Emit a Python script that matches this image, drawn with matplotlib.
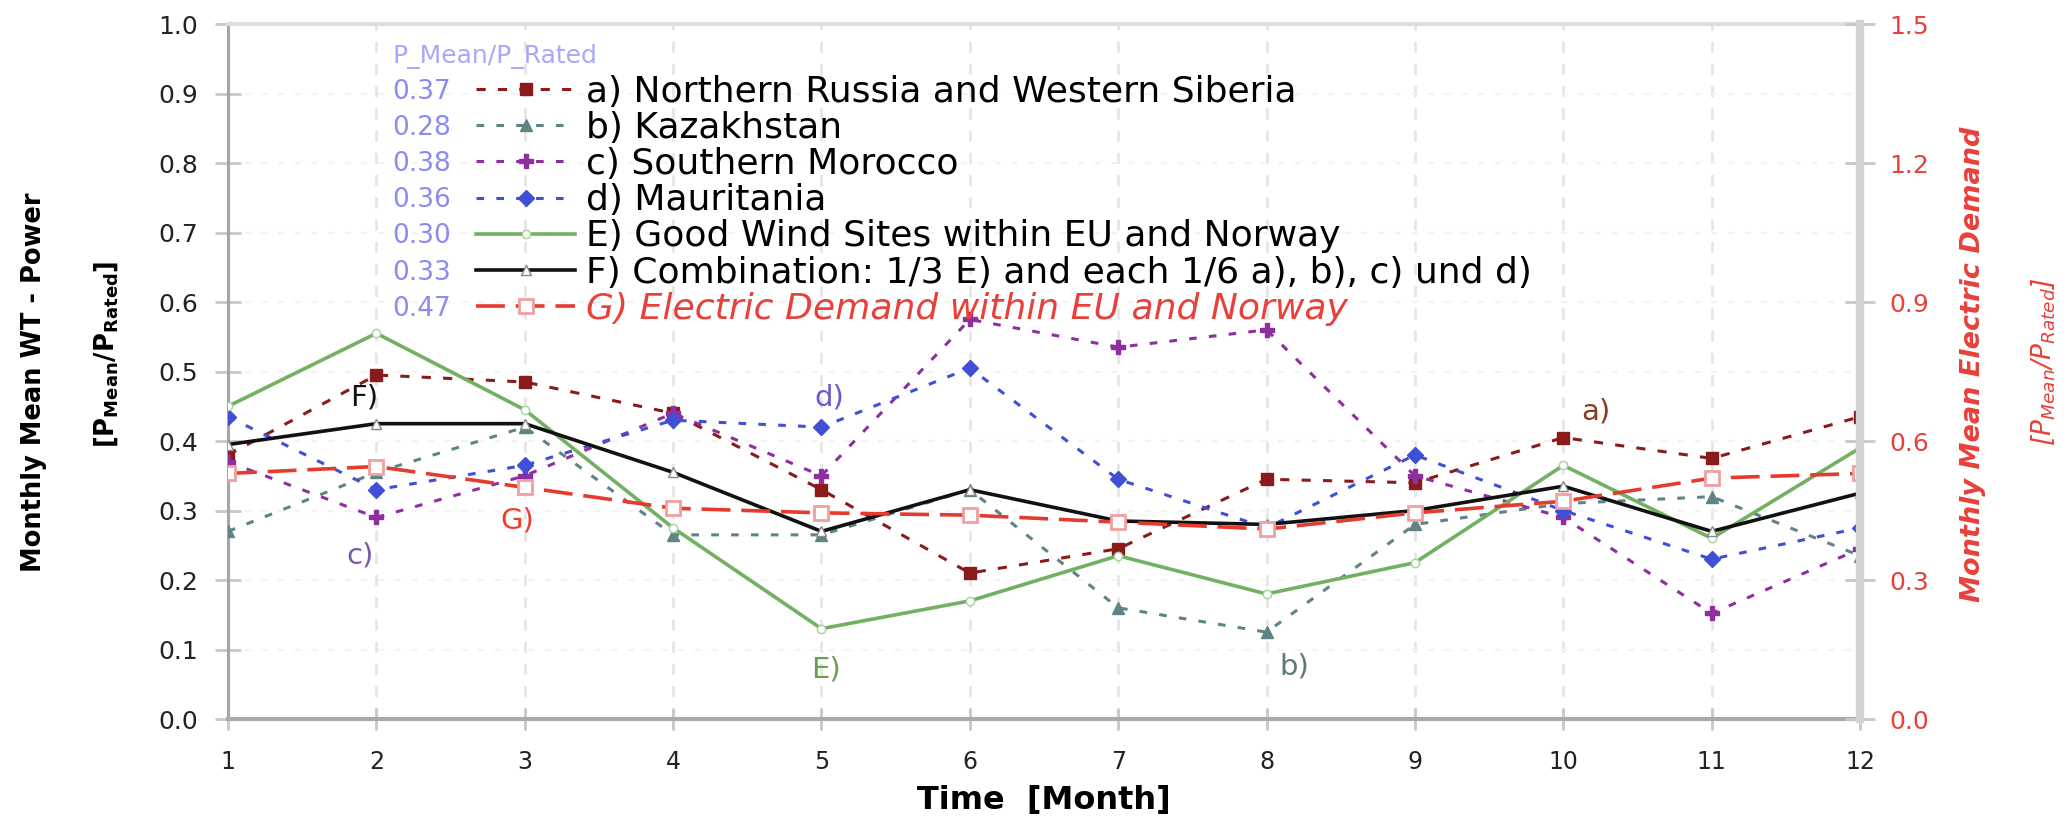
import matplotlib
matplotlib.use('Agg')
import matplotlib.pyplot as plt

# monthly mean WT power, P_Mean/P_Rated
months = list(range(1, 13))
north_russia = [0.38, 0.495, 0.485, 0.44, 0.33, 0.21, 0.245, 0.345, 0.34, 0.405, 0.375, 0.435]
kazakhstan = [0.27, 0.355, 0.42, 0.265, 0.265, 0.33, 0.16, 0.125, 0.28, 0.31, 0.32, 0.235]
morocco = [0.37, 0.29, 0.35, 0.44, 0.35, 0.575, 0.535, 0.56, 0.35, 0.29, 0.152, 0.245]
mauritania = [0.435, 0.33, 0.365, 0.43, 0.42, 0.505, 0.345, 0.275, 0.38, 0.30, 0.23, 0.275]
eu_wind = [0.45, 0.555, 0.445, 0.275, 0.13, 0.17, 0.235, 0.18, 0.225, 0.365, 0.26, 0.39]
combination = [0.395, 0.425, 0.425, 0.355, 0.27, 0.33, 0.285, 0.28, 0.30, 0.335, 0.27, 0.325]
# electric demand, right axis
demand = [0.53, 0.545, 0.50, 0.455, 0.445, 0.44, 0.425, 0.41, 0.445, 0.47, 0.52, 0.53]

series_labels = [
    'a) Northern Russia and Western Siberia',
    'b) Kazakhstan',
    'c) Southern Morocco',
    'd) Mauritania',
    'E) Good Wind Sites within EU and Norway',
    'F) Combination: 1/3 E) and each 1/6 a), b), c) und d)',
    'G) Electric Demand within EU and Norway',
]
legend_means = ['0.37', '0.28', '0.38', '0.36', '0.30', '0.33', '0.47']
left_ticks = [0.0, 0.1, 0.2, 0.3, 0.4, 0.5, 0.6, 0.7, 0.8, 0.9, 1.0]
right_ticks = [0.0, 0.3, 0.6, 0.9, 1.2, 1.5]

plt.rcParams['font.family'] = 'DejaVu Sans'
plt.rcParams['mathtext.default'] = 'regular'

fig = plt.figure(figsize=(20.69, 8.21), dpi=100)
ax = fig.add_axes([0.1102, 0.1242, 0.7888, 0.8465])
ax2 = ax.twinx()

# ----- series on left axis -----
left_series = [
    (north_russia, '#8B1A1A', 's', (0, (3, 4)), 2.2, 9, '#8B1A1A', '#8B1A1A'),
    (kazakhstan, '#5E8484', '^', (0, (2.5, 4)), 2.2, 9, '#5E8484', '#5E8484'),
    (morocco, '#8E2FA0', 'P', (0, (2.5, 4)), 2.2, 10, '#8E2FA0', '#8E2FA0'),
    (mauritania, '#3F4FD6', 'D', (0, (2.5, 4)), 2.2, 8, '#3F4FD6', '#3F4FD6'),
    (eu_wind, '#72B062', 'o', '-', 2.6, 6, 'white', '#A8D09C'),
    (combination, '#111111', '^', '-', 2.6, 7, 'white', '#888888'),
]
handles = []
for vals, color, marker, ls, lw, ms, mfc, mec in left_series:
    h, = ax.plot(months, vals, color=color, linestyle=ls, linewidth=lw,
                 marker=marker, markersize=ms, markerfacecolor=mfc,
                 markeredgecolor=mec, zorder=3)
    handles.append(h)

g, = ax2.plot(months, demand, color='#E53A2E', linestyle=(0, (8, 3)), linewidth=2.6,
              marker='s', markersize=10, markerfacecolor='white',
              markeredgecolor='#F0A0A0', markeredgewidth=2)
handles.append(g)

# ----- axes styling -----
ax.set_xlim(1, 12)
ax.set_ylim(0, 1.0)
ax2.set_ylim(0, 1.5)
ax.set_xticks(months)
ax.set_xticklabels([str(m) for m in months])
ax.set_yticks(left_ticks)
ax.set_yticklabels([f'{t:.1f}' for t in left_ticks])
ax2.set_yticks(right_ticks)
ax2.set_yticklabels([f'{t:.1f}' for t in right_ticks])

ax.tick_params(axis='y', direction='inout', length=19, width=2, color='#C8C8C8',
               labelsize=18, pad=12, labelcolor='#222222')
ax.tick_params(axis='x', direction='inout', length=16, width=2, color='#C8C8C8',
               labelsize=17, pad=14, labelcolor='#222222')
ax2.tick_params(axis='y', direction='inout', length=22, width=2, color='#C8C8C8',
                labelsize=18, pad=10, labelcolor='#E8403A')

ax.grid(axis='x', color='#E6E6E6', linestyle=(0, (4, 4)), linewidth=2)
ax.grid(axis='y', color='#F3F3F3', linestyle=(0, (3, 5)), linewidth=1.5)

for s in ['top', 'right', 'left', 'bottom']:
    ax2.spines[s].set_visible(s == 'right')
ax.spines['right'].set_visible(False)
ax.spines['top'].set_color('#DDDDDD')
ax.spines['top'].set_linewidth(3)
ax.spines['left'].set_color('#A6A6A6')
ax.spines['left'].set_linewidth(2.2)
ax.spines['bottom'].set_color('#AAAAAA')
ax.spines['bottom'].set_linewidth(3)
ax2.spines['right'].set_color('#D2D2D2')
ax2.spines['right'].set_linewidth(6)

# ----- axis labels -----
ax.set_xlabel('Time  [Month]', fontsize=23, fontweight='bold', labelpad=8)
ax.set_ylabel('Monthly Mean WT - Power', fontsize=18.5, fontweight='bold', va='center')
ax.yaxis.set_label_coords(-0.119, 0.484)
ax.text(-0.075, 0.525, r'[P$_{\mathbf{Mean}}$/P$_{\mathbf{Rated}}$]', transform=ax.transAxes,
        rotation=90, ha='center', va='center', fontsize=18.5, fontweight='bold')
ax2.set_ylabel('Monthly Mean Electric Demand', fontsize=19.5, fontweight='bold',
               style='italic', color='#E8403A', rotation=90, va='center')
ax2.yaxis.set_label_coords(1.069, 0.511)
ax2.text(1.112, 0.514, r'[P$_{\mathit{Mean}}$/P$_{\mathit{Rated}}$]', transform=ax.transAxes,
         rotation=90, ha='center', va='center', fontsize=19, fontstyle='italic',
         color='#E8403A')

# ----- curve tags -----
tags = [
    ('F)', 1.92, 0.463, '#111111'),
    ('G)', 2.95, 0.286, '#E8402A'),
    ('c)', 1.89, 0.236, '#7A5AA8'),
    ('E)', 5.03, 0.071, '#6AA050'),
    ('d)', 5.05, 0.462, '#6A5ACD'),
    ('a)', 10.22, 0.442, '#8B3A1A'),
    ('b)', 8.19, 0.075, '#607878'),
]
for txt, x, y, c in tags:
    ax.text(x, y, txt, color=c, fontsize=21, ha='center', va='center', zorder=5)

# ----- legend with mean values -----
leg = ax2.legend(handles, series_labels, loc='upper left', bbox_to_anchor=(0.152, 0.927),
                 frameon=False, fontsize=26, handlelength=2.75, handletextpad=0.3,
                 labelspacing=0.06, borderpad=0, borderaxespad=0)
leg.get_texts()[6].set_color('#E8403A')
leg.get_texts()[6].set_fontstyle('italic')

fig.canvas.draw()
renderer = fig.canvas.get_renderer()
inv = ax2.transAxes.inverted()
for txt, val in zip(leg.get_texts(), legend_means):
    bb = txt.get_window_extent(renderer)
    yc = inv.transform((0, (bb.y0 + bb.y1) / 2))[1]
    ax2.text(0.1005, yc, val, color='#8C8CF0', fontsize=19, ha='left', va='center',
             transform=ax2.transAxes)
ax2.text(0.1005, 0.953, 'P_Mean/P_Rated', color='#A8A8F8', fontsize=18,
         ha='left', va='center', transform=ax2.transAxes)

fig.savefig('out.png', dpi=100)
